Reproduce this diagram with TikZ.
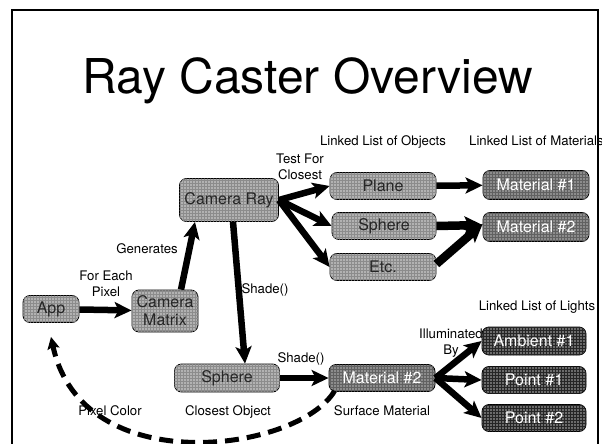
\documentclass[tikz,border=0pt]{standalone}
\usepackage{fontspec}
\setmainfont{TeX Gyre Heros}
\usetikzlibrary{arrows.meta,patterns}

\begin{document}
\begin{tikzpicture}[x=1pt,y=-1pt,
  box/.style={draw=black, line width=0.8pt, rounded corners=7pt, inner sep=0pt,
    align=center, font=\fontsize{16}{18}\selectfont},
  objbox/.style={box, fill=black!30, text=black!85,
    postaction={pattern=grid, pattern color=black!45}},
  matbox/.style={box, fill=black!45, text=white,
    postaction={pattern=grid, pattern color=black!62}},
  lightbox/.style={box, fill=black!58, text=white,
    postaction={pattern=grid, pattern color=black!85}},
  lbl/.style={font=\fontsize{13.2}{16}\selectfont, inner sep=0pt, align=center},
  link/.style={line width=6.5pt, -{Stealth[length=17pt,width=16pt,inset=4pt]}},
  fatlink/.style={line width=8.5pt, -{Stealth[length=18pt,width=18pt,inset=4pt]}},
  returnlink/.style={line width=5pt, dash pattern=on 14pt off 8pt,
    -{Stealth[length=12pt,width=12pt,inset=2pt]}}
]
\useasboundingbox (0,0) rectangle (602,444);

% title
\node[anchor=base, inner sep=0pt, font=\fontsize{48}{50}\selectfont] (title) at (308,93) {Ray Caster Overview};

% column headings
\node[lbl, anchor=base] (objhead) at (383,145) {Linked List of Objects};
\node[lbl, anchor=base west] (mathead) at (469,145) {Linked List of Materials};
\node[lbl, anchor=base] (lighthead) at (537,310) {Linked List of Lights};

% camera side
\node[objbox, minimum width=56pt, minimum height=27pt] (app) at (51,309) {App};
\node[objbox, minimum width=66pt, minimum height=42pt] (cmat) at (165,311) {Camera\\Matrix};
\node[objbox, minimum width=99pt, minimum height=43pt] (cray) at (229,200) {Camera Ray};

% objects
\node[objbox, minimum width=106pt, minimum height=27pt] (plane) at (383,186) {Plane};
\node[objbox, minimum width=104pt, minimum height=27pt] (sphere) at (384,226) {Sphere};
\node[objbox, minimum width=106pt, minimum height=27pt] (etc) at (383,267) {Etc.};

% materials
\node[matbox, minimum width=106pt, minimum height=29pt] (mat1) at (536,185) {Material \#1};
\node[matbox, minimum width=106pt, minimum height=29pt] (mat2) at (536,227) {Material \#2};

% shading chain
\node[objbox, minimum width=105pt, minimum height=28pt] (hit) at (227,378) {Sphere};
\node[matbox, minimum width=106pt, minimum height=27pt] (surf) at (382,378) {Material \#2};

% lights
\node[lightbox, minimum width=104pt, minimum height=28pt] (amb) at (534,341) {Ambient \#1};
\node[lightbox, minimum width=104pt, minimum height=27pt] (pt1) at (534,380) {Point \#1};
\node[lightbox, minimum width=104pt, minimum height=27pt] (pt2) at (534,418) {Point \#2};

% connectors
\draw[link] (app) -- (cmat);
\draw[link] ([xshift=16pt]cmat.north) -- ([xshift=-34pt]cray.south);
\draw[link] ([xshift=4pt]cray.south) -- ([xshift=18pt]hit.north);
\draw[link] (cray.east) -- (plane.west);
\draw[link] (cray.east) -- (sphere.west);
\draw[link] (cray.east) -- (etc.west);
\draw[link] (plane) -- (mat1);
\draw[fatlink] (sphere.east) -- ([yshift=2pt]mat2.west);
\draw[fatlink] ([yshift=3pt]etc.east) -- ([yshift=3pt]mat2.west);
\draw[link] (hit) -- (surf);
\draw[link] (surf.east) -- (amb.west);
\draw[link] (surf.east) -- (pt1.west);
\draw[link] (surf.east) -- (pt2.west);
\draw[returnlink] ([xshift=6pt,yshift=1pt]surf.south west)
  .. controls (298,452) and (82,482) .. ([yshift=-14pt]app.south);

% connector labels
\node[lbl] (testlbl) at (300,167) {Test For\\Closest};
\node[lbl, anchor=base] (genlbl) at (147,253) {Generates};
\node[lbl] (foreach) at (106,284) {For Each\\Pixel};
\node[lbl, anchor=base] (shade1) at (265,293) {Shade()};
\node[lbl, anchor=base] (shade2) at (301,362) {Shade()};
\node[lbl] (illum) at (451,343) {Illuminated\\By};
\node[lbl, anchor=base] (pixcol) at (110,415) {Pixel Color};
\node[lbl, anchor=base] (closest) at (228,415) {Closest Object};
\node[lbl, anchor=base] (surflbl) at (382,415) {Surface Material};

% slide frame
\draw[line width=2.2pt] (12,460) -- (12,10) -- (598,10) -- (598,460);
\end{tikzpicture}
\end{document}
